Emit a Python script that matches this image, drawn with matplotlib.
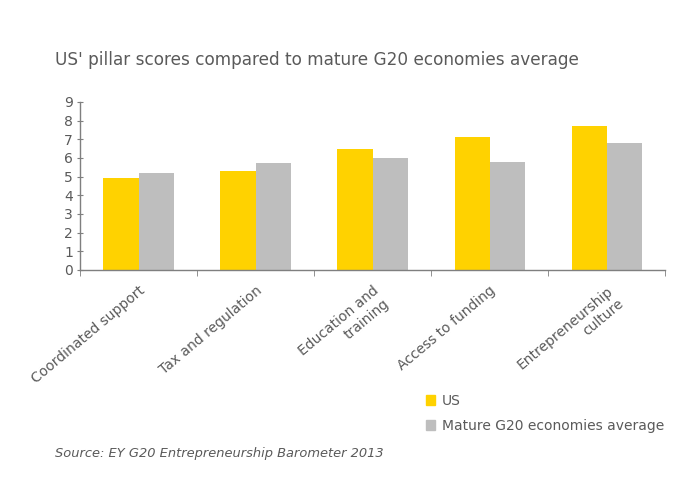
import matplotlib

matplotlib.use("Agg")
import matplotlib.pyplot as plt
import numpy as np
from matplotlib.patches import Patch

categories = [
    "Coordinated support",
    "Tax and regulation",
    "Education and\ntraining",
    "Access to funding",
    "Entrepreneurship\nculture",
]
us_scores = [4.9, 5.3, 6.5, 7.1, 7.7]
g20_scores = [5.2, 5.7, 6.0, 5.8, 6.8]
series_names = ["US", "Mature G20 economies average"]

YELLOW = "#FFD200"
GREY = "#BEBEBE"
TEXT = "#5a5a5a"
AXIS = "#7f7f7f"

plt.rcParams["font.family"] = ["DejaVu Sans"]

fig = plt.figure(figsize=(6.9, 4.97), dpi=100)
ax = fig.add_axes([0.116, 0.457, 0.848, 0.338])

x = np.arange(len(categories))
width = 0.3
ax.bar(x - width / 2, us_scores, width, color=YELLOW)
ax.bar(x + width / 2, g20_scores, width, color=GREY)

ax.set_xlim(-0.5, len(categories) - 0.5)
ax.set_ylim(0, 9)
ax.set_yticks(range(0, 10))

ax.set_xticks(x)
ax.set_xticklabels(categories, rotation=40, ha="right", rotation_mode="anchor",
                   fontsize=10, color=TEXT)
ax.set_xticks(np.arange(-0.5, len(categories)), minor=True)
ax.tick_params(axis="x", which="major", length=0, pad=10)
ax.tick_params(axis="x", which="minor", length=4, color=AXIS, direction="out")
ax.tick_params(axis="y", length=4, color=AXIS, labelsize=10, labelcolor=TEXT,
               direction="inout", pad=3)

for side in ["top", "right"]:
    ax.spines[side].set_visible(False)
for side in ["left", "bottom"]:
    ax.spines[side].set_color(AXIS)
    ax.spines[side].set_linewidth(1.0)

fig.text(55 / 690, 1 - 60 / 497, "US' pillar scores compared to mature G20 economies average",
         fontsize=12.2, color=TEXT, va="center", ha="left")

handles = [Patch(color=YELLOW), Patch(color=GREY)]
fig.legend(handles, series_names, loc="upper left",
           bbox_to_anchor=(420 / 690, 1 - 388 / 497), frameon=False,
           fontsize=10, labelcolor=TEXT, handlelength=0.7, handleheight=0.7,
           handletextpad=0.5, labelspacing=0.8, borderaxespad=0)

fig.text(55 / 690, 1 - 453 / 497, "Source: EY G20 Entrepreneurship Barometer 2013",
         fontsize=9.4, style="italic", color=TEXT, va="center", ha="left")

fig.savefig("out.png", dpi=100)
